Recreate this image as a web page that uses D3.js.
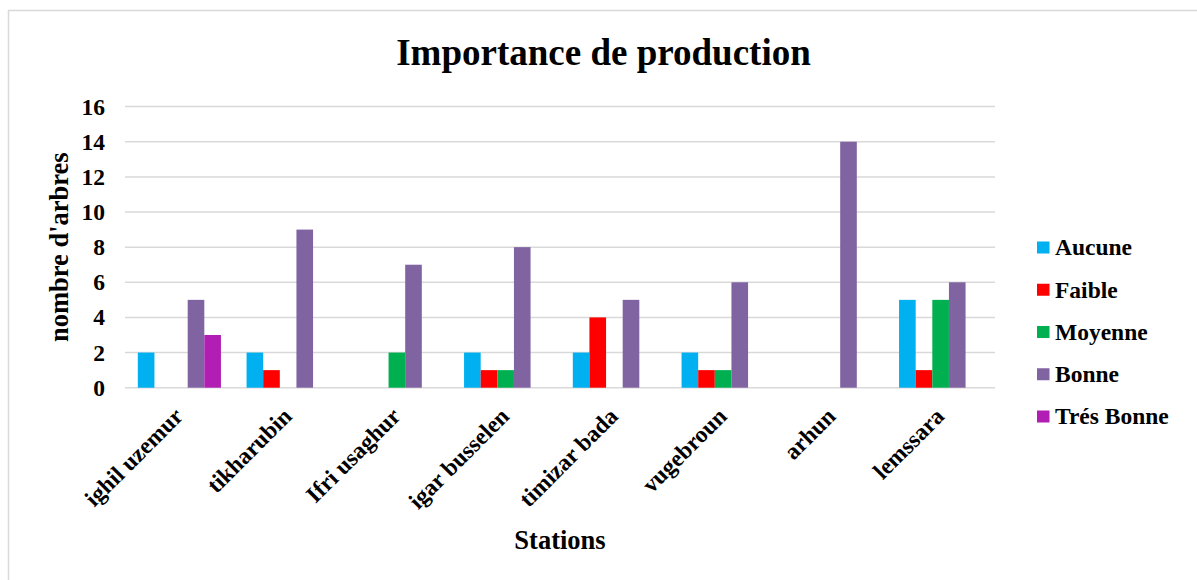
<!DOCTYPE html>
<html>
<head>
<meta charset="utf-8">
<script src="https://cdn.jsdelivr.net/npm/d3@7/dist/d3.min.js"></script>
<style>
  html, body { margin: 0; padding: 0; background: #fff; }
  svg { display: block; font-family: "Liberation Serif", "Times New Roman", serif; font-weight: bold; }
</style>
</head>
<body>
<svg id="chart" width="1197" height="580"></svg>
<script>
// Stations (x categories)
const stations = ["ighil uzemur", "tikharubin", "Ifri usaghur", "igar busselen",
                  "timizar bada", "vugebroun", "arhun", "lemssara"];

// Production classes (series)
const classes = ["Aucune", "Faible", "Moyenne", "Bonne", "Trés Bonne"];
const classColors = ["#00B0F0", "#FF0000", "#00B050", "#8064A2", "#B01EB3"];

// Number of trees per class, one value per station
const aucune    = [2, 2, 0, 2, 2, 2, 0, 5];
const faible    = [0, 1, 0, 1, 4, 1, 0, 1];
const moyenne   = [0, 0, 2, 1, 0, 1, 0, 5];
const bonne     = [5, 9, 7, 8, 5, 6, 14, 6];
const tresBonne = [3, 0, 0, 0, 0, 0, 0, 0];

// Y axis ticks
const yTicks = [0, 2, 4, 6, 8, 10, 12, 14, 16];

const seriesValues = [aucune, faible, moyenne, bonne, tresBonne];

const svg = d3.select("#chart");

// Outer chart frame
svg.append("rect")
  .attr("x", 8.5).attr("y", 10.5)
  .attr("width", 1200).attr("height", 600)
  .attr("fill", "none").attr("stroke", "#D9D9D9").attr("stroke-width", 1.5);

const plot = { left: 125, right: 995, top: 106.6, bottom: 387.7 };

const x0 = d3.scaleBand().domain(stations).range([plot.left, plot.right]).padding(0);
const x1 = d3.scaleBand().domain(classes).range([0, x0.bandwidth()])
  .paddingInner(0).paddingOuter(0.77);
const y = d3.scaleLinear().domain([0, 16]).range([plot.bottom, plot.top]);
const color = d3.scaleOrdinal().domain(classes).range(classColors);

// Horizontal gridlines
svg.append("g")
  .selectAll("line")
  .data(yTicks)
  .join("line")
  .attr("x1", plot.left).attr("x2", plot.right)
  .attr("y1", d => y(d)).attr("y2", d => y(d))
  .attr("stroke", "#D9D9D9").attr("stroke-width", 1.5);

// Y axis labels
const yAxis = svg.append("g")
  .attr("transform", `translate(${plot.left},0)`)
  .call(d3.axisLeft(y).tickValues(yTicks).tickSize(0).tickPadding(20));
yAxis.select(".domain").remove();
yAxis.selectAll("text")
  .attr("font-family", "Liberation Serif").attr("font-weight", "bold")
  .attr("font-size", "23.5px").attr("fill", "#000");

// Bars
const groups = svg.append("g")
  .selectAll("g")
  .data(stations)
  .join("g")
  .attr("transform", d => `translate(${x0(d)},0)`);

groups.selectAll("rect")
  .data((s, i) => classes.map((c, k) => ({ cls: c, value: seriesValues[k][i] })))
  .join("rect")
  .filter(d => d.value > 0)
  .attr("x", d => x1(d.cls))
  .attr("width", x1.bandwidth())
  .attr("y", d => y(d.value))
  .attr("height", d => y(0) - y(d.value))
  .attr("fill", d => color(d.cls));

// X axis category labels
const xAxis = svg.append("g")
  .attr("transform", `translate(0,${plot.bottom})`)
  .call(d3.axisBottom(x0).tickSize(0));
xAxis.select(".domain").remove();
xAxis.selectAll("text")
  .attr("font-family", "Liberation Serif").attr("font-weight", "bold")
  .attr("font-size", "23.5px").attr("fill", "#000")
  .attr("x", 0).attr("y", 0).attr("dy", null)
  .attr("text-anchor", "end")
  .attr("transform", "translate(5,30) rotate(-45)");

// Title
svg.append("text")
  .attr("x", 603.5).attr("y", 65)
  .attr("text-anchor", "middle")
  .attr("font-size", "37px")
  .text("Importance de production");

// Axis titles
svg.append("text")
  .attr("x", (plot.left + plot.right) / 2).attr("y", 549)
  .attr("text-anchor", "middle")
  .attr("font-size", "26.5px")
  .text("Stations");

svg.append("text")
  .attr("transform", `translate(68,${(plot.top + plot.bottom) / 2}) rotate(-90)`)
  .attr("text-anchor", "middle")
  .attr("font-size", "26.5px")
  .text("nombre d'arbres");

// Legend
const legend = svg.append("g")
  .selectAll("g")
  .data(classes)
  .join("g")
  .attr("transform", (d, i) => `translate(1037,${247.5 + i * 42.25})`);

legend.append("rect")
  .attr("x", 0).attr("y", -6)
  .attr("width", 12.5).attr("height", 12)
  .attr("fill", d => color(d));

legend.append("text")
  .attr("x", 18).attr("y", 7.8)
  .attr("font-size", "23.5px")
  .text(d => d);
</script>
</body>
</html>
